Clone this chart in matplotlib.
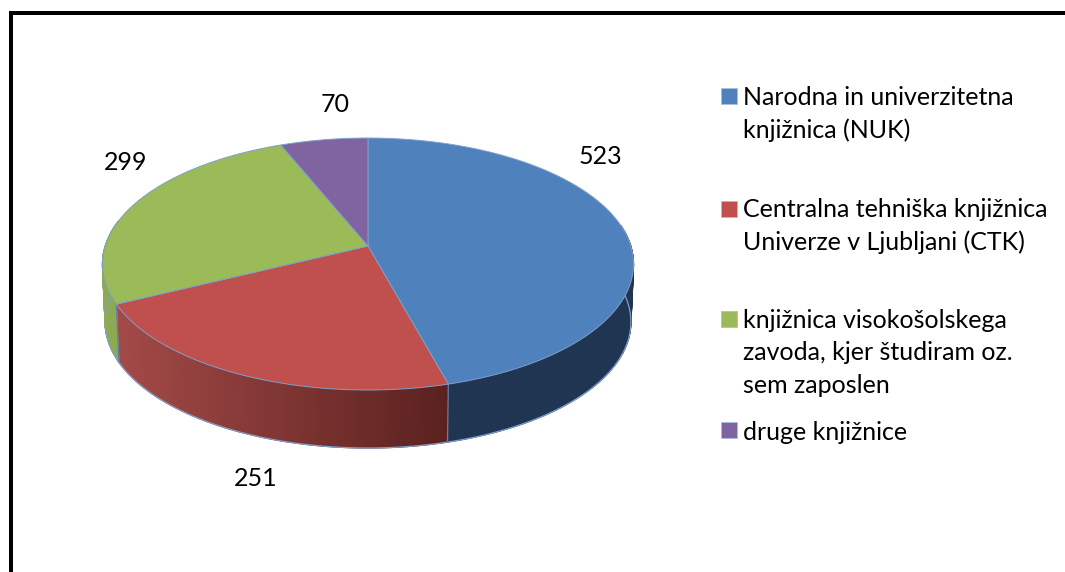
import numpy as np
import matplotlib
matplotlib.use("Agg")
import matplotlib.pyplot as plt
from matplotlib.patches import Rectangle

plt.rcParams['font.family'] = ['Lato', 'DejaVu Sans']

labels = ["Narodna in univerzitetna\nknjižnica (NUK)",
          "Centralna tehniška knjižnica\nUniverze v Ljubljani (CTK)",
          "knjižnica visokošolskega\nzavoda, kjer študiram oz.\nsem zaposlen",
          "druge knjižnice"]
values = [523, 251, 299, 70]
colors = ["#4F81BD", "#C0504D", "#9BBB59", "#8064A2"]
side_left = ["#1F3552", "#A34A47", "#8EAA50", "#8064A2"]
side_right = ["#1F3552", "#5A211F", "#8EAA50", "#8064A2"]

value_pos = [(600, 156), (256, 478), (126, 162), (335, 104)]
legend_y = [88, 201, 311, 422]
text_y = [86, 198, 309, 421]

# pie in perspective, centre of the top face in pixels
cx, cy = 368, 246
A, B, k = 262.8, 123.4, 0.143
depth = 58
shrink = 0.99


def project(theta, r=1.0, drop=0):
    u = r * np.sin(theta)
    v = r * np.cos(theta)
    w = 1 + k * v
    s = shrink if drop else 1.0
    return cx + s * A * u / w, cy - B * v / w + drop


fig = plt.figure(figsize=(10.65, 5.72), dpi=100)
ax = fig.add_axes([0, 0, 1, 1])
ax.set_xlim(0, 1065)
ax.set_ylim(572, 0)
ax.axis('off')

# frame, only top and left are in the picture
ax.fill([9, 1065, 1065, 9], [11, 11, 15, 15], color='black', lw=0)
ax.fill([9, 13, 13, 9], [11, 11, 572, 572], color='black', lw=0)

edges = np.cumsum([0] + values) / sum(values) * 2 * np.pi

# side wall, only the front part shows
for i in range(len(values)):
    t0 = max(edges[i], np.radians(80))
    t1 = min(edges[i + 1], np.radians(282))
    if t1 <= t0:
        continue
    c0 = np.array(matplotlib.colors.to_rgb(side_left[i]))
    c1 = np.array(matplotlib.colors.to_rgb(side_right[i]))
    ts = np.linspace(t0, t1, 80)
    xt, yt = project(ts)
    xb, yb = project(ts, drop=depth)
    left = xb.min()
    right = xb.max()
    for j in range(len(ts) - 1):
        f = (right - (xb[j] + xb[j + 1]) / 2) / max(right - left, 1)
        col = c1 + (c0 - c1) * f
        ax.fill([xt[j], xt[j + 1], xb[j + 1], xb[j]],
                [yt[j], yt[j + 1], yb[j + 1], yb[j]],
                color=col, lw=0.9, zorder=1)
    ax.plot(xb, yb, color="#7F9FCB", lw=0.9, zorder=2)

# divider lines on the wall
for e in edges[1:3]:
    xt, yt = project(e)
    xb, yb = project(e, drop=depth)
    ax.plot([xt, xb], [yt, yb], color="#5F7FAF", lw=0.9, zorder=2)

# top face
for i in range(len(values)):
    ts = np.linspace(edges[i], edges[i + 1], 200)
    x, y = project(ts)
    ax.fill(np.r_[cx, x], np.r_[cy, y], facecolor=colors[i],
            edgecolor="#7F9FCB", lw=0.7, zorder=3)

# value labels
for v, (x, y) in zip(values, value_pos):
    ax.text(x, y, str(v), fontsize=18, ha='center', va='center', color='black')

# legend
for i in range(len(labels)):
    ax.add_patch(Rectangle((721, legend_y[i]), 16, 16, facecolor=colors[i],
                           edgecolor="#A9BEDC", lw=0.6))
    ax.text(743, text_y[i], labels[i], fontsize=18, ha='left', va='top',
            linespacing=1.5, color='black')

fig.savefig("out.png", dpi=100)
